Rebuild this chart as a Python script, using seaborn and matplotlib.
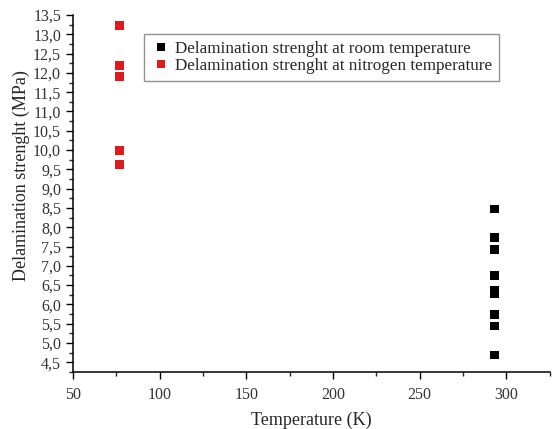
import numpy as np
import pandas as pd
import matplotlib
matplotlib.use("Agg")
import matplotlib.pyplot as plt
import matplotlib.ticker as mticker
import seaborn as sns

# wartości
room_temp = [293] * 9
room_strength = [8.47, 7.74, 7.43, 6.74, 6.36, 6.29, 5.73, 5.44, 4.69]
nitrogen_temp = [77] * 5
nitrogen_strength = [13.22, 12.2, 11.9, 9.99, 9.62]

labels = [
    "Delamination strenght at room temperature",
    "Delamination strenght at nitrogen temperature",
]

df = pd.DataFrame({
    "T": room_temp + nitrogen_temp,
    "S": room_strength + nitrogen_strength,
    "series": [labels[0]] * len(room_temp) + [labels[1]] * len(nitrogen_temp),
})

sns.set_style("ticks")
plt.rcParams["font.family"] = ["Liberation Serif", "DejaVu Serif"]

fig = plt.figure(figsize=(5.52, 4.29), dpi=100)
ax = fig.add_axes([0.132, 0.133, 0.864, 0.832])

sns.scatterplot(
    data=df, x="T", y="S", hue="series",
    palette={labels[0]: "black", labels[1]: "#e0191b"},
    marker="s", s=40, linewidth=0, ax=ax,
)

ax.set_xlim(50, 325)
ax.set_ylim(4.25, 13.5)
ax.xaxis.set_major_locator(mticker.MultipleLocator(50))
ax.xaxis.set_minor_locator(mticker.MultipleLocator(25))
ax.yaxis.set_major_locator(mticker.MultipleLocator(0.5))
ax.yaxis.set_minor_locator(mticker.MultipleLocator(0.25))
ax.yaxis.set_major_formatter(
    mticker.FuncFormatter(lambda v, p: f"{v:.1f}".replace(".", ","))
)
ax.tick_params(which="major", direction="out", length=5, width=1, labelsize=11.5,
               colors="black", labelcolor="#333333")
ax.tick_params(which="minor", direction="out", length=3, width=1)
ax.tick_params(axis="x", which="major", pad=6)
for side in ["top", "right"]:
    ax.spines[side].set_visible(False)
for side in ["left", "bottom"]:
    ax.spines[side].set_linewidth(1.1)
    ax.spines[side].set_color("black")

ax.set_xlabel("Temperature (K)", fontsize=13)
ax.xaxis.set_label_coords(0.5, -0.11)
ax.set_ylabel("Delamination strenght (MPa)", fontsize=13)
ax.yaxis.set_label_coords(-0.09, 0.55)

leg = ax.legend(
    loc="upper left", bbox_to_anchor=(0.149, 0.947), borderaxespad=0,
    fontsize=12.3, frameon=True, fancybox=False, edgecolor="#777777",
    handletextpad=0.2, borderpad=0.4, labelspacing=0.1, handlelength=1.2,
    markerscale=0.8,
)
leg.get_frame().set_linewidth(1.0)

fig.savefig("out.png", dpi=100)
